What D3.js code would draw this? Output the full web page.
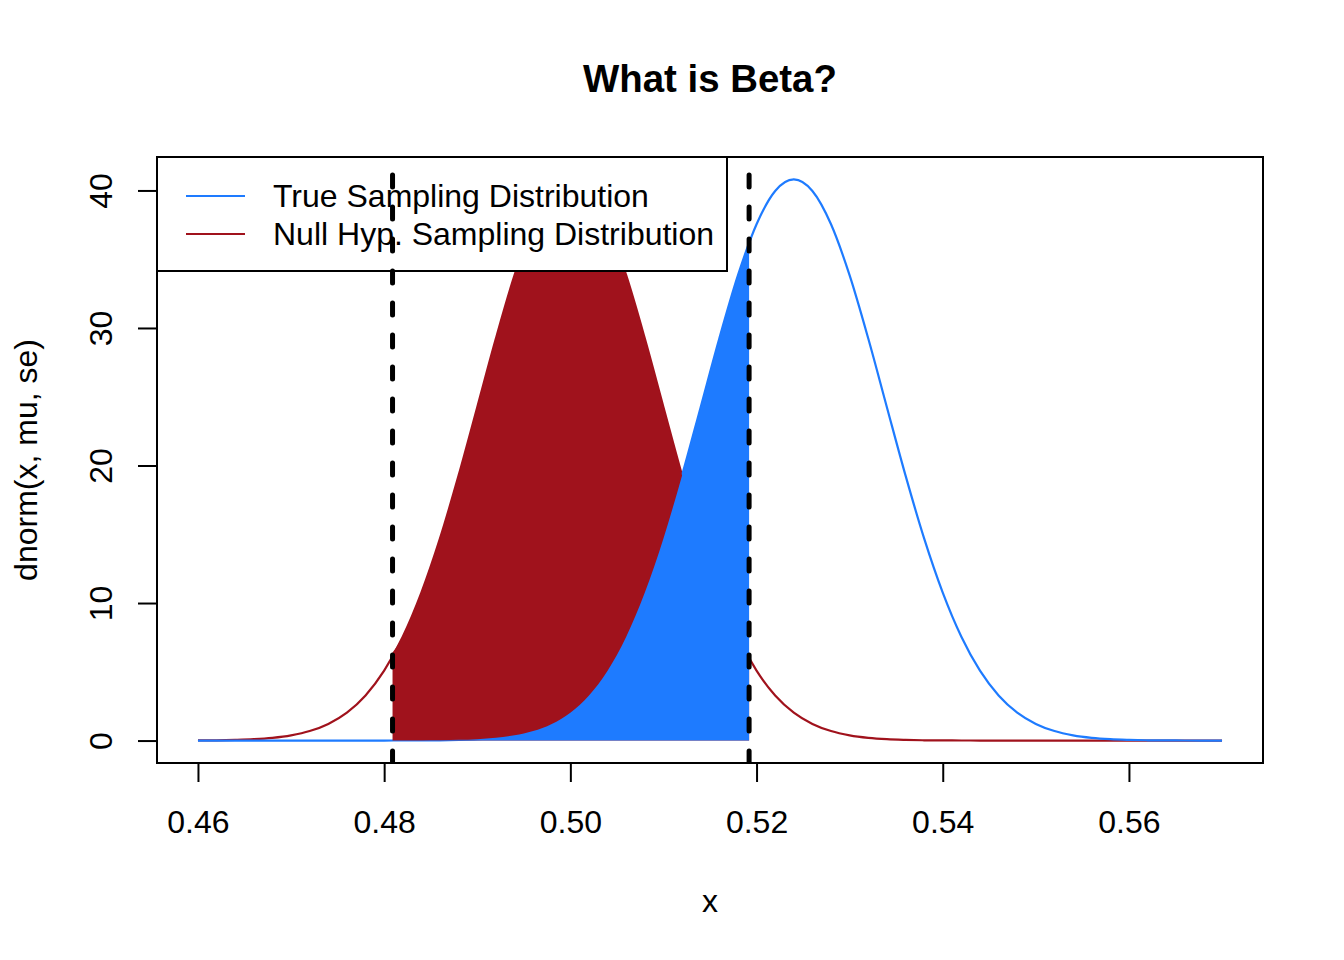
<!DOCTYPE html>
<html>
<head>
<meta charset="utf-8">
<style>
body { margin: 0; background: #fff; }
svg { display: block; background: #fff; font-family: "Liberation Sans", Arial, Helvetica, sans-serif; }
</style>
</head>
<body>
<svg id="chart"></svg>
<script src="https://cdnjs.cloudflare.com/ajax/libs/d3/7.8.5/d3.min.js"></script>
<script>
// grid of x values the two densities were read at
var xGrid = [0.460, 0.462, 0.464, 0.466, 0.468, 0.470, 0.472, 0.474, 0.476, 0.478,
             0.480, 0.482, 0.484, 0.486, 0.488, 0.490, 0.492, 0.494, 0.496, 0.498,
             0.500, 0.502, 0.504, 0.506, 0.508, 0.510, 0.512, 0.514, 0.516, 0.518,
             0.520, 0.522, 0.524, 0.526, 0.528, 0.530, 0.532, 0.534, 0.536, 0.538,
             0.540, 0.542, 0.544, 0.546, 0.548, 0.550, 0.552, 0.554, 0.556, 0.558,
             0.560, 0.562, 0.564, 0.566, 0.568, 0.570]

// null hypothesis sampling distribution (centred at 0.50)
var nullDensity = [0.01, 0.02, 0.05, 0.10, 0.20, 0.38, 0.69, 1.21, 2.03, 3.28,
                   5.08, 7.55, 10.76, 14.70, 19.28, 24.24, 29.23, 33.82, 37.54, 39.96,
                   40.80, 39.96, 37.54, 33.82, 29.23, 24.24, 19.28, 14.70, 10.76, 7.55,
                   5.08, 3.28, 2.03, 1.21, 0.69, 0.38, 0.20, 0.10, 0.05, 0.02,
                   0.01, 0.004, 0.002, 0.001, 0, 0, 0, 0, 0, 0,
                   0, 0, 0, 0, 0, 0]

// true sampling distribution (centred at 0.524)
var trueDensity = [0, 0, 0, 0, 0, 0, 0, 0, 0, 0.001,
                   0.002, 0.004, 0.01, 0.02, 0.05, 0.10, 0.20, 0.38, 0.69, 1.21,
                   2.03, 3.28, 5.08, 7.55, 10.76, 14.70, 19.28, 24.24, 29.23, 33.82,
                   37.54, 39.96, 40.80, 39.96, 37.54, 33.82, 29.23, 24.24, 19.28, 14.70,
                   10.76, 7.55, 5.08, 3.28, 2.03, 1.21, 0.69, 0.38, 0.20, 0.10,
                   0.05, 0.02, 0.01, 0.004, 0.002, 0.001]

// critical values (dashed lines) and the density heights where the shading stops
var critX = [0.4809, 0.5192]
var nullAtCrit = [6.4, 6.0]
var trueAtCrit = [0.002, 36.3]

var xTicks = [0.46, 0.48, 0.50, 0.52, 0.54, 0.56]
var yTicks = [0, 10, 20, 30, 40]

var legendLabels = ["True Sampling Distribution", "Null Hyp. Sampling Distribution"]
var legendColors = ["#1e7bff", "#a0121c"]

var W = 1344, H = 960
var margin = {top: 157, right: 81, bottom: 197, left: 157}
var pw = W - margin.left - margin.right,
    ph = H - margin.top - margin.bottom
var blue = legendColors[0], red = legendColors[1]

var svg = d3.select("#chart").attr("width", W).attr("height", H)

// R style 4% padding on both axes
var xScale = d3.scaleLinear().domain([0.4556, 0.5744]).range([margin.left, margin.left + pw])
var yScale = d3.scaleLinear().domain([-1.632, 42.432]).range([margin.top + ph, margin.top])

svg.append("clipPath").attr("id", "plotclip")
  .append("rect")
    .attr("x", margin.left).attr("y", margin.top)
    .attr("width", pw).attr("height", ph)

var plot = svg.append("g").attr("clip-path", "url(#plotclip)")

var nullPts = xGrid.map((x, i) => ({x: x, y: nullDensity[i]}))
var truePts = xGrid.map((x, i) => ({x: x, y: trueDensity[i]}))

var line = d3.line().x(d => xScale(d.x)).y(d => yScale(d.y)).curve(d3.curveMonotoneX)
var area = d3.area().x(d => xScale(d.x)).y0(yScale(0)).y1(d => yScale(d.y)).curve(d3.curveMonotoneX)

// curves (blue sits on top of red in the tails)
plot.append("path").datum(nullPts)
    .attr("d", line).attr("fill", "none").attr("stroke", red).attr("stroke-width", 2.2)
plot.append("path").datum(truePts)
    .attr("d", line).attr("fill", "none").attr("stroke", blue).attr("stroke-width", 2.2)

// shaded region under the null between the critical values
var redPoly = [{x: critX[0], y: nullAtCrit[0]}]
  .concat(nullPts.filter(d => d.x > critX[0] && d.x < critX[1]))
  .concat([{x: critX[1], y: nullAtCrit[1]}])
plot.append("path").datum(redPoly).attr("d", area).attr("fill", red)

// beta: true distribution left of the upper critical value
var bluePoly = truePts.filter(d => d.x < critX[1])
  .concat([{x: critX[1], y: trueAtCrit[1]}])
plot.append("path").datum(bluePoly).attr("d", area).attr("fill", blue)

// axes
var xAxis = d3.axisBottom(xScale).tickValues(xTicks).tickFormat(d3.format(".2f"))
  .tickSize(19).tickSizeOuter(0).tickPadding(28)
var gx = svg.append("g")
  .attr("transform", "translate(0," + (margin.top + ph) + ")")
  .call(xAxis)
gx.select(".domain").remove()
gx.append("line").attr("x1", xScale(xTicks[0])).attr("x2", xScale(xTicks[xTicks.length - 1]))
  .attr("stroke", "#000").attr("stroke-width", 2)

var yAxis = d3.axisLeft(yScale).tickValues(yTicks).tickSize(19).tickSizeOuter(0)
var gy = svg.append("g")
  .attr("transform", "translate(" + margin.left + ",0)")
  .call(yAxis)
gy.select(".domain").remove()
gy.append("line").attr("y1", yScale(yTicks[0])).attr("y2", yScale(yTicks[yTicks.length - 1]))
  .attr("stroke", "#000").attr("stroke-width", 2)
gy.selectAll(".tick text")
  .attr("x", 0).attr("dy", null)
  .attr("text-anchor", "middle")
  .attr("transform", "translate(-45,0) rotate(-90)")

svg.selectAll(".tick line").attr("stroke", "#000").attr("stroke-width", 2)
svg.selectAll(".tick text").attr("fill", "#000")
  .attr("font-size", 32).attr("font-family", "Liberation Sans, Arial, sans-serif")

// plot box
svg.append("rect")
  .attr("x", margin.left).attr("y", margin.top)
  .attr("width", pw).attr("height", ph)
  .attr("fill", "none").attr("stroke", "#000").attr("stroke-width", 2)

// legend
var lg = svg.append("g")
lg.append("rect")
  .attr("x", 157).attr("y", 157).attr("width", 570).attr("height", 114)
  .attr("fill", "#fff").attr("stroke", "#000").attr("stroke-width", 2)
legendLabels.forEach(function(lab, i) {
  var cy = 196 + i * 38
  lg.append("line").attr("x1", 186).attr("x2", 245).attr("y1", cy).attr("y2", cy)
    .attr("stroke", legendColors[i]).attr("stroke-width", 2.2)
  lg.append("text").attr("x", 273).attr("y", cy + 11)
    .attr("font-size", 32).attr("fill", "#000").text(lab)
})

// dashed critical value lines, drawn last so they cross the legend
svg.append("g").attr("clip-path", "url(#plotclip)")
  .selectAll("line.crit")
  .data(critX).enter().append("line")
    .attr("class", "crit")
    .attr("x1", d => xScale(d)).attr("x2", d => xScale(d))
    .attr("y1", margin.top + ph).attr("y2", margin.top)
    .attr("stroke", "#000").attr("stroke-width", 5)
    .attr("stroke-dasharray", "12,20").attr("stroke-linecap", "round")

// titles
svg.append("text")
  .attr("x", margin.left + pw / 2).attr("y", 92)
  .attr("text-anchor", "middle").attr("font-size", 38.4).attr("font-weight", "bold")
  .text("What is Beta?")
svg.append("text")
  .attr("x", margin.left + pw / 2).attr("y", 912)
  .attr("text-anchor", "middle").attr("font-size", 32)
  .text("x")
svg.append("text")
  .attr("transform", "translate(37," + (margin.top + ph / 2) + ") rotate(-90)")
  .attr("text-anchor", "middle").attr("font-size", 32)
  .text("dnorm(x, mu, se)")
</script>
</body>
</html>
